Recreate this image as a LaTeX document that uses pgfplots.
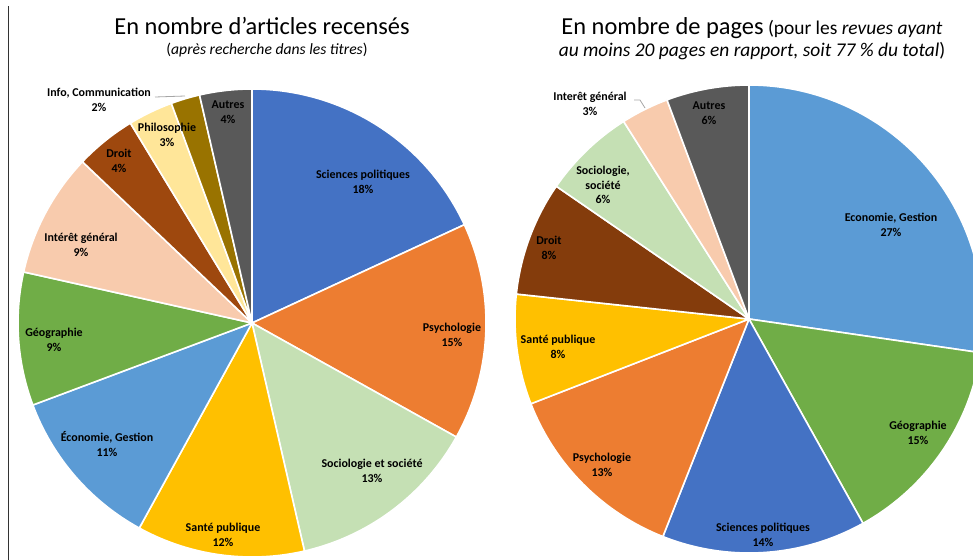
\documentclass[border=0pt]{standalone}
\usepackage{pgfplots}
\pgfplotsset{compat=1.18}
\usepackage{pgfplotstable}
\usepackage{fontspec}
\setmainfont{Carlito}
\definecolor{cSP}{HTML}{4472C4}
\definecolor{cPsy}{HTML}{ED7D31}
\definecolor{cSoc}{HTML}{C5E0B4}
\definecolor{cSan}{HTML}{FFC000}
\definecolor{cEco}{HTML}{5B9BD5}
\definecolor{cGeo}{HTML}{70AD47}
\definecolor{cIG}{HTML}{F8CBAD}
\definecolor{cDroitA}{HTML}{9E480E}
\definecolor{cDroitB}{HTML}{843C0C}
\definecolor{cPhilo}{HTML}{FFE699}
\definecolor{cInfo}{HTML}{997300}
\definecolor{cAutres}{HTML}{595959}
\definecolor{cLead}{HTML}{A6A6A6}

\pgfplotstableread[col sep=semicolon]{
value;pct;color;lx;ly;label
18.1;18;cSP;363;182;Sciences politiques
15.0;15;cPsy;452;335;Psychologie
13.3;13;cSoc;372;471;Sociologie et société
11.6;12;cSan;223;535;Santé publique
11.3;11;cEco;107;444;Économie, Gestion
9.2;9;cGeo;54;340;Géographie
8.6;9;cIG;81;245;Intérêt général
4.2;4;cDroitA;119;161;Droit
3.1;3;cPhilo;167;135;Philosophie
2.0;2;cInfo;99;100;Info, Communication
3.6;4;cAutres;228;112;Autres
}\articles

\pgfplotstableread[col sep=semicolon]{
value;pct;color;lx;ly;label
27.3;27;cEco;891;225;Economie, Gestion
14.6;15;cGeo;918;433;Géographie
14.1;14;cSP;763;535;Sciences politiques
13.1;13;cPsy;602;465;Psychologie
7.6;8;cSan;558;347;Santé publique
7.9;8;cDroitB;549;248;Droit
6.4;6;cSoc;603;185;Sociologie,\\société
3.3;3;cIG;590;104;Interêt général
5.7;6;cAutres;709;113;Autres
}\pages

\tikzset{pielabel/.style={align=center, inner sep=0pt, text=black,
  font=\bfseries\fontsize{12}{14.5}\selectfont}}

\newcommand\drawpie[4]{%
  \pgfplotstablegetrowsof{#1}%
  \pgfmathtruncatemacro\lastrow{\pgfplotsretval-1}%
  \gdef\cumA{0}%
  \foreach \i in {0,...,\lastrow}{%
    \pgfplotstablegetelem{\i}{value}\of#1\let\sval\pgfplotsretval
    \pgfplotstablegetelem{\i}{color}\of#1\let\scol\pgfplotsretval
    \pgfmathsetmacro\sa{90-3.6*\cumA}%
    \pgfmathsetmacro\se{90-3.6*(\cumA+\sval)}%
    \edef\temp{\noexpand\fill[fill=\scol, draw=white, line width=1.6bp, line join=round]
      (axis cs:#2,#3) -- ++(\sa:#4) arc[start angle=\sa, end angle=\se, radius=#4] -- cycle;}%
    \temp
    \pgfmathsetmacro\nc{\cumA+\sval}%
    \global\let\cumA\nc
  }%
  \foreach \i in {0,...,\lastrow}{%
    \pgfplotstablegetelem{\i}{lx}\of#1\let\lx\pgfplotsretval
    \pgfplotstablegetelem{\i}{ly}\of#1\let\ly\pgfplotsretval
    \pgfplotstablegetelem{\i}{pct}\of#1\let\pct\pgfplotsretval
    \pgfplotstablegetelem{\i}{label}\of#1\let\lab\pgfplotsretval
    \edef\temp{\noexpand\node[pielabel] at (axis cs:\lx,\ly)
      {\expandafter\unexpanded\expandafter{\lab}\noexpand\\\pct\noexpand\%};}%
    \temp
  }%
}

\begin{document}
\begin{tikzpicture}
\begin{axis}[scale only axis, width=973bp, height=560bp,
  xmin=0, xmax=973, ymin=0, ymax=560, y dir=reverse,
  hide axis, clip=true]
\drawpie{\articles}{252}{323}{234bp}
\drawpie{\pages}{749}{319}{234bp}
% leader lines
\addplot[cLead, line width=0.8bp, no marks] coordinates {(155,97) (170,96.5) (185,96)};
\addplot[cLead, line width=0.8bp, no marks] coordinates {(634,100) (640,100) (645,108)};
% left border line
\addplot[black!80, line width=1bp, no marks] coordinates {(8,6) (8,560)};
% titles
\node[anchor=base, inner sep=0pt] at (axis cs:262,34.5)
  {\fontsize{24.5}{28}\selectfont En nombre d’articles recensés};
\node[anchor=base, inner sep=0pt] at (axis cs:267,54)
  {\fontsize{15.7}{18}\selectfont (\textit{après recherche dans les titres})};
\node[anchor=base, inner sep=0pt] at (axis cs:752,34.7)
  {{\fontsize{24.5}{28}\selectfont En nombre de pages}{\fontsize{19.5}{22}\selectfont\ (pour les \textit{revues ayant}}};
\node[anchor=base, inner sep=0pt] at (axis cs:752,56.3)
  {\fontsize{19.5}{22}\selectfont \textit{au moins 20 pages en rapport, soit 77~\% du total})};
\end{axis}
\pgfresetboundingbox
\path (0,0) rectangle (973bp,560bp);
\end{tikzpicture}
\end{document}
